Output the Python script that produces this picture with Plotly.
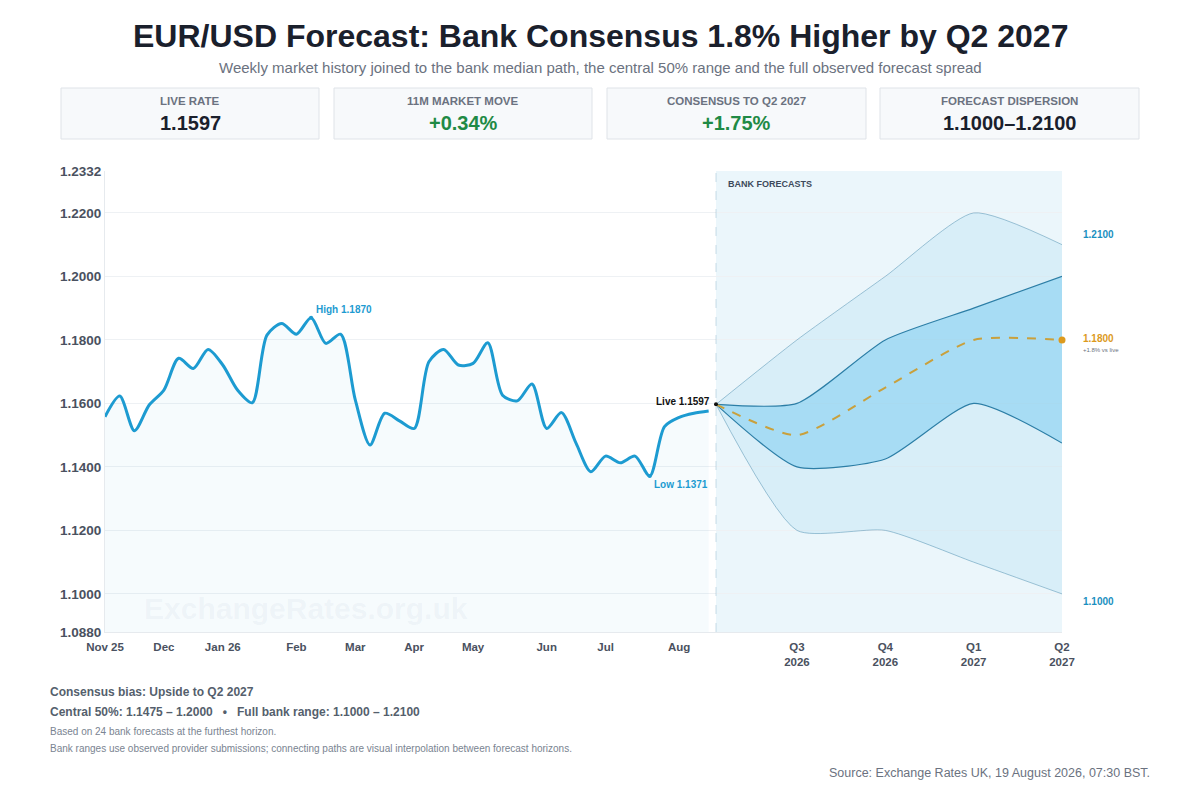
import plotly.graph_objects as go
import pandas as pd

# weekly EUR/USD history, Nov 2025 up to the live date
hist_dates = list(pd.date_range("2025-11-07", "2026-08-14", freq="W-FRI")) + [pd.Timestamp("2026-08-19")]
hist_rates = [1.1558, 1.1623, 1.1514, 1.1595, 1.1642, 1.1742, 1.1710, 1.1770, 1.1721, 1.1642,
              1.1602, 1.1815, 1.1852, 1.1818, 1.1870, 1.1789, 1.1818, 1.1611, 1.1469, 1.1569,
              1.1545, 1.1521, 1.1731, 1.1770, 1.1721, 1.1726, 1.1791, 1.1626, 1.1608, 1.1661,
              1.1521, 1.1571, 1.1474, 1.1385, 1.1434, 1.1413, 1.1434, 1.1371, 1.1527, 1.1556,
              1.1569, 1.1576]
live_rate = 1.1597

# bank forecast distribution per horizon
horizons = ["Q3<br>2026", "Q4<br>2026", "Q1<br>2027", "Q2<br>2027"]
bank_high = [1.1800, 1.2000, 1.2200, 1.2100]
bank_q75 = [1.1600, 1.1800, 1.1900, 1.2000]
bank_median = [1.1500, 1.1650, 1.1800, 1.1800]
bank_q25 = [1.1400, 1.1425, 1.1600, 1.1475]
bank_low = [1.1200, 1.1200, 1.1100, 1.1000]

y_ticks = [1.0880, 1.1000, 1.1200, 1.1400, 1.1600, 1.1800, 1.2000, 1.2200, 1.2332]

cards = [
    ("LIVE RATE", "1.1597", "#1a202c"),
    ("11M MARKET MOVE", "+0.34%", "#1f8a45"),
    ("CONSENSUS TO Q2 2027", "+1.75%", "#1f8a45"),
    ("FORECAST DISPERSION", "1.1000\u20131.2100", "#1a202c"),
]

FONT = "Liberation Sans, Arial, sans-serif"
BLUE = "#1d9bd1"
ORANGE = "#dc9a1e"
SMOOTH = 0.6

# the page body adds 8px, so layout targets are given in page pixels and shifted back
OFF = 8
L, R, T, B = 105 - OFF, 1062 - OFF, 171 - OFF, 632 - OFF


def px(x):
    return (x - OFF - L) / (R - L)


def py(y):
    return (B - (y - OFF)) / (B - T)


def build_figure():
    hist_x = list(range(len(hist_rates)))
    live_x = len(hist_rates) - 0.5
    fc_x = [live_x] + [live_x + 5.5 + 6 * k for k in range(len(horizons))]

    # month tick labels at the first week of each month
    tick_vals, tick_text = [], []
    for i, d in enumerate(hist_dates[:-1]):
        if i == 0 or d.month != hist_dates[i - 1].month:
            tick_vals.append(i)
            tick_text.append(d.strftime("%b %y") if (i == 0 or d.month == 1) else d.strftime("%b"))
    tick_vals += fc_x[1:]
    tick_text += horizons

    fig = go.Figure()

    fig.add_trace(go.Scatter(
        x=hist_x, y=hist_rates, mode="lines", line=dict(color=BLUE, width=3, shape="spline", smoothing=0.8),
        fill="tozeroy", fillcolor="rgba(29,155,209,0.04)", hoverinfo="skip"))

    # full bank range
    fig.add_trace(go.Scatter(
        x=fc_x, y=[live_rate] + bank_high, mode="lines",
        line=dict(color="rgba(90,150,180,0.55)", width=1, shape="spline", smoothing=SMOOTH)))
    fig.add_trace(go.Scatter(
        x=fc_x, y=[live_rate] + bank_low, mode="lines",
        line=dict(color="rgba(90,150,180,0.55)", width=1, shape="spline", smoothing=SMOOTH),
        fill="tonexty", fillcolor="rgba(120,200,235,0.16)"))

    # central 50%
    fig.add_trace(go.Scatter(
        x=fc_x, y=[live_rate] + bank_q75, mode="lines",
        line=dict(color="#2c7ea6", width=1.2, shape="spline", smoothing=SMOOTH)))
    fig.add_trace(go.Scatter(
        x=fc_x, y=[live_rate] + bank_q25, mode="lines",
        line=dict(color="#2c7ea6", width=1.2, shape="spline", smoothing=SMOOTH),
        fill="tonexty", fillcolor="rgba(100,195,238,0.42)"))

    fig.add_trace(go.Scatter(
        x=fc_x, y=[live_rate] + bank_median, mode="lines",
        line=dict(color="#c9a03c", width=2, dash="dash", shape="spline", smoothing=SMOOTH)))
    fig.add_trace(go.Scatter(
        x=[fc_x[-1]], y=[bank_median[-1]], mode="markers", cliponaxis=False,
        marker=dict(color=ORANGE, size=7)))

    # live / high / low dots
    hi = hist_rates.index(max(hist_rates))
    lo = hist_rates.index(min(hist_rates))
    fig.add_trace(go.Scatter(
        x=[hist_x[hi], hist_x[lo]], y=[hist_rates[hi], hist_rates[lo]], mode="markers",
        marker=dict(color=BLUE, size=4)))
    fig.add_trace(go.Scatter(
        x=[live_x], y=[live_rate], mode="markers", marker=dict(color="#111111", size=4)))

    shapes = [
        dict(type="rect", xref="x", yref="paper", x0=live_x, x1=fc_x[-1], y0=0, y1=1,
             fillcolor="rgba(29,155,209,0.09)", line=dict(width=0), layer="below"),
        dict(type="line", xref="x", yref="paper", x0=live_x, x1=live_x, y0=0, y1=1,
             line=dict(color="rgba(140,180,200,0.45)", width=1, dash="dash")),
    ]

    ann = []

    def text(x, y, s, size, color, bold=False, xanchor="center", **kw):
        ann.append(dict(x=x, y=y, text=s, showarrow=False, xanchor=xanchor,
                        font=dict(family=FONT, size=size, color=color, weight="bold" if bold else "normal"),
                        **kw))

    # header
    text(px(600), py(36), "EUR/USD Forecast: Bank Consensus 1.8% Higher by Q2 2027", 32, "#1a202c",
         True, xref="paper", yref="paper", yanchor="middle")
    text(px(600), py(67), "Weekly market history joined to the bank median path, the central 50% range "
         "and the full observed forecast spread", 15, "#6b7280", xref="paper", yref="paper", yanchor="middle")

    card_x = [(61, 319), (334, 592), (607, 866), (880, 1139)]
    for (x0, x1), (label, value, color) in zip(card_x, cards):
        shapes.append(dict(type="rect", xref="paper", yref="paper", x0=px(x0), x1=px(x1), y0=py(139), y1=py(88),
                           fillcolor="#f7f9fb", line=dict(color="#dfe3e8", width=1)))
        text(px((x0 + x1) / 2), py(101), label, 11.5, "#6b7280", True, xref="paper", yref="paper",
             yanchor="middle")
        text(px((x0 + x1) / 2), py(123), value, 20, color, True, xref="paper", yref="paper", yanchor="middle")

    # chart labels
    text(live_x, live_rate, f"Live {live_rate:.4f}", 10, "#111111", True, xanchor="right",
         yanchor="middle", xshift=-4, yshift=3)
    text(hi, hist_rates[hi], f"High {hist_rates[hi]:.4f}", 10, BLUE, True, xanchor="left",
         yanchor="bottom", xshift=3, yshift=1)
    text(lo, hist_rates[lo], f"Low {hist_rates[lo]:.4f}", 10, BLUE, True, xanchor="left",
         yanchor="top", xshift=2, yshift=-1)
    text(live_x, py(184), "BANK FORECASTS", 9, "#3d4a5c", True, xanchor="left", yref="paper",
         yanchor="middle", xshift=10)
    text(px(1081), bank_high[-1], f"{bank_high[-1]:.4f}", 10, "#1a8fc0", True, xanchor="left",
         xref="paper", yanchor="middle", yshift=10)
    text(px(1081), bank_low[-1], f"{bank_low[-1]:.4f}", 10, "#1a8fc0", True, xanchor="left",
         xref="paper", yanchor="middle", yshift=-8)
    text(px(1081), bank_median[-1], f"{bank_median[-1]:.4f}", 10, ORANGE, True, xanchor="left",
         xref="paper", yanchor="middle", yshift=1)
    text(px(1081), bank_median[-1], f"+{(bank_median[-1] / live_rate - 1) * 100:.1f}% vs live", 6,
         "#6b7280", xanchor="left", xref="paper", yanchor="middle", yshift=-10)
    text(px(306), py(608), "ExchangeRates.org.uk", 30, "rgba(120,150,175,0.07)", True,
         xref="paper", yref="paper", yanchor="middle")

    # footer
    footer = [
        (692, "Consensus bias: Upside to Q2 2027", 12, "#555f6d", True),
        (712, "Central 50%: 1.1475 \u2013 1.2000   \u2022   Full bank range: 1.1000 \u2013 1.2100", 12, "#555f6d", True),
        (731, "Based on 24 bank forecasts at the furthest horizon.", 10, "#7a8491", False),
        (748, "Bank ranges use observed provider submissions; connecting paths are visual interpolation "
              "between forecast horizons.", 10, "#7a8491", False),
    ]
    for y, s, size, color, bold in footer:
        text(px(48), py(y), s, size, color, bold, xanchor="left", xref="paper", yref="paper", yanchor="middle")
    text(px(1152), py(773), "Source: Exchange Rates UK, 19 August 2026, 07:30 BST.", 12.5, "#6b7280",
         xanchor="right", xref="paper", yref="paper", yanchor="middle")

    fig.update_layout(
        width=1200, height=800,
        margin=dict(l=L, r=1200 - R, t=T, b=800 - B, autoexpand=False),
        paper_bgcolor="white", plot_bgcolor="white",
        showlegend=False, hovermode=False,
        shapes=shapes, annotations=ann,
        font=dict(family=FONT),
    )
    fig.update_xaxes(
        range=[0, fc_x[-1]], tickvals=tick_vals, ticktext=tick_text, showgrid=False, zeroline=False,
        showline=True, linecolor="#e6eaee", ticklabelstandoff=4,
        tickfont=dict(family=FONT, size=11.5, color="#4a5160", weight="bold"),
    )
    fig.update_yaxes(
        range=[y_ticks[0], y_ticks[-1]], tickvals=y_ticks, ticktext=[f"{v:.4f}" for v in y_ticks],
        showgrid=True, gridcolor="#eef1f4", zeroline=False, showline=True, linecolor="#e6eaee",
        tickfont=dict(family=FONT, size=13.5, color="#4a5160", weight="bold"),
    )
    return fig


fig = build_figure()
fig.write_html("out.html")
